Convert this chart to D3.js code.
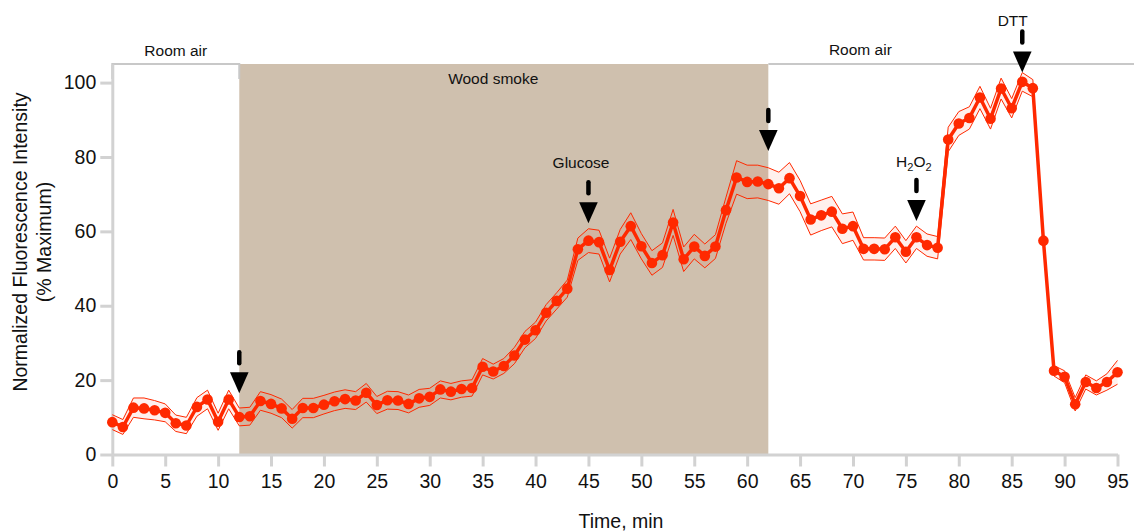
<!DOCTYPE html>
<html>
<head>
<meta charset="utf-8">
<script src="https://cdn.jsdelivr.net/npm/d3@7"></script>
<style>
  body { margin: 0; background: #fff; }
  svg { display: block; font-family: "Liberation Sans", Arial, sans-serif; }
</style>
</head>
<body>
<div id="chart"></div>
<script>
// time points, one per minute
const minutes = [
  0, 1, 2, 3, 4, 5, 6, 7, 8, 9, 10, 11, 12, 13, 14, 15, 16, 17, 18, 19,
  20, 21, 22, 23, 24, 25, 26, 27, 28, 29, 30, 31, 32, 33, 34, 35, 36, 37, 38, 39,
  40, 41, 42, 43, 44, 45, 46, 47, 48, 49, 50, 51, 52, 53, 54, 55, 56, 57, 58, 59,
  60, 61, 62, 63, 64, 65, 66, 67, 68, 69, 70, 71, 72, 73, 74, 75, 76, 77, 78, 79,
  80, 81, 82, 83, 84, 85, 86, 87, 88, 89, 90, 91, 92, 93, 94, 95
];

// mean normalized fluorescence (% max)
const intensity = [
  8.7, 7.4, 12.6, 12.4, 11.9, 11.2, 8.4, 7.8, 12.8, 14.8,
  8.8, 14.8, 10.1, 10.3, 14.4, 13.6, 12.4, 9.6, 12.5, 12.5,
  13.4, 14.3, 14.9, 14.5, 16.6, 13.3, 14.6, 14.5, 13.6, 15.1,
  15.5, 17.5, 16.9, 17.6, 17.9, 23.6, 22.3, 23.8, 26.6, 30.9,
  33.4, 38.1, 41.3, 44.6, 55.2, 57.5, 57.1, 49.6, 57.2, 61.4,
  56.0, 51.5, 53.6, 62.4, 52.5, 55.9, 53.4, 55.9, 65.7, 74.5,
  73.3, 73.4, 72.7, 71.6, 74.3, 69.5, 63.2, 64.3, 65.3, 60.7,
  61.4, 55.3, 55.3, 55.2, 58.4, 54.5, 58.4, 56.3, 55.6, 84.7,
  89.0, 90.5, 96.0, 90.3, 98.4, 93.1, 100.2, 98.5, 57.5, 22.5,
  20.9, 13.5, 19.5, 17.9, 19.5, 22.1
];

// standard error around the mean
const sem = [
  2.0, 2.0, 2.6, 2.8, 2.6, 2.4, 2.2, 2.2, 2.5, 2.5,
  2.3, 2.5, 2.4, 2.4, 2.5, 2.5, 2.5, 2.5, 2.6, 2.6,
  2.5, 2.5, 2.5, 2.4, 2.5, 2.3, 2.4, 2.4, 2.4, 2.4,
  2.3, 2.3, 2.2, 2.2, 2.2, 2.2, 2.0, 2.0, 2.2, 2.2,
  2.2, 2.2, 2.2, 2.3, 3.0, 3.2, 3.2, 3.2, 3.3, 3.6,
  3.4, 3.3, 3.3, 3.5, 3.3, 3.3, 3.2, 3.2, 3.5, 4.5,
  4.5, 4.4, 4.4, 4.3, 4.2, 4.2, 4.2, 4.1, 4.1, 4.0,
  3.8, 3.0, 3.0, 3.0, 3.0, 3.0, 3.0, 3.0, 3.0, 3.3,
  3.2, 3.0, 3.0, 2.8, 2.8, 2.6, 2.5, 2.3, 0.4, 1.4,
  1.6, 1.8, 1.9, 1.9, 2.2, 3.2
];

const xTicks = [0, 5, 10, 15, 20, 25, 30, 35, 40, 45, 50, 55, 60, 65, 70, 75, 80, 85, 90, 95];
const yTicks = [0, 20, 40, 60, 80, 100];

// exposure phases (minutes)
const smokeStart = 12, smokeEnd = 62;

// additions: time and value at arrow tip
const arrows = [
  { t: 12, tip: 16.5 },
  { t: 45, tip: 62.2 },
  { t: 62, tip: 81.6 },
  { t: 76, tip: 62.8 },
  { t: 86, tip: 102.7 }
];

// text labels placed in data coordinates
const labels = [
  { text: "Room air", t: 6, v: 107.2 },
  { text: "Wood smoke", t: 36, v: 99.6 },
  { text: "Room air", t: 70.7, v: 107.4 },
  { text: "Glucose", t: 44.3, v: 77.0 },
  { text: "DTT", t: 85.1, v: 115.2 }
];

const width = 1134, height = 531;
const margin = { top: 64, right: 16.5, bottom: 76.5, left: 112.3 };
const red = "#ff2900";
const axisGray = "#d2d2d2";

const svg = d3.select("#chart")
  .append("svg")
  .attr("width", width)
  .attr("height", height);

const x = d3.scaleLinear().domain([0, 95]).range([margin.left, width - margin.right]);
const y = d3.scaleLinear().domain([0, 105]).range([height - margin.bottom, margin.top]);

const data = minutes.map((t, i) => ({ t, v: intensity[i], e: sem[i] }));

// wood smoke shading
svg.append("rect")
  .attr("x", x(smokeStart))
  .attr("y", y(105))
  .attr("width", x(smokeEnd) - x(smokeStart))
  .attr("height", y(0) - y(105))
  .attr("fill", "#cfc0ae");

// room air brackets
svg.append("path")
  .attr("d", `M${x(0)},${y(105) + 15}V${y(105)}H${x(smokeStart)}V${y(105) + 15}`)
  .attr("fill", "none")
  .attr("stroke", "#c8c8c8")
  .attr("stroke-width", 2);

svg.append("path")
  .attr("d", `M${x(smokeEnd)},${y(105)}H${x(97)}`)
  .attr("fill", "none")
  .attr("stroke", "#c8c8c8")
  .attr("stroke-width", 2);

// axes
function styleAxis(g) {
  g.attr("font-family", null).attr("font-size", 19.5);
  g.select(".domain").attr("stroke", axisGray).attr("stroke-width", 3);
  g.selectAll(".tick line").attr("stroke", axisGray).attr("stroke-width", 3);
  g.selectAll(".tick text").attr("fill", "#111");
}

svg.append("g")
  .attr("transform", `translate(0,${y(0)})`)
  .call(d3.axisBottom(x).tickValues(xTicks).tickSize(12).tickSizeOuter(0).tickPadding(8))
  .call(styleAxis);

svg.append("g")
  .attr("transform", `translate(${x(0)},0)`)
  .call(d3.axisLeft(y).tickValues(yTicks).tickSize(12).tickSizeOuter(0).tickPadding(4))
  .call(styleAxis);

// error band
svg.append("path")
  .datum(data)
  .attr("d", d3.area().x(d => x(d.t)).y0(d => y(d.v - d.e)).y1(d => y(d.v + d.e)))
  .attr("fill", red)
  .attr("fill-opacity", 0.07);

[1, -1].forEach(sign => {
  svg.append("path")
    .datum(data)
    .attr("d", d3.line().x(d => x(d.t)).y(d => y(d.v + sign * d.e)))
    .attr("fill", "none")
    .attr("stroke", red)
    .attr("stroke-width", 1);
});

// mean line and points
svg.append("path")
  .datum(data)
  .attr("d", d3.line().x(d => x(d.t)).y(d => y(d.v)))
  .attr("fill", "none")
  .attr("stroke", red)
  .attr("stroke-width", 3.5)
  .attr("stroke-linejoin", "round");

svg.selectAll("circle.pt")
  .data(data)
  .enter()
  .append("circle")
  .attr("class", "pt")
  .attr("cx", d => x(d.t))
  .attr("cy", d => y(d.v))
  .attr("r", 5.3)
  .attr("fill", red);

// addition arrows
arrows.forEach(a => {
  const ax = x(a.t), ty = y(a.tip);
  svg.append("line")
    .attr("x1", ax).attr("x2", ax)
    .attr("y1", ty - 41).attr("y2", ty - 30)
    .attr("stroke", "#000")
    .attr("stroke-width", 4.5)
    .attr("stroke-linecap", "round");
  svg.append("path")
    .attr("d", `M${ax - 9.3},${ty - 21}L${ax + 9.3},${ty - 21}L${ax},${ty}Z`)
    .attr("fill", "#000");
});

// labels
labels.forEach(l => {
  svg.append("text")
    .attr("x", x(l.t))
    .attr("y", y(l.v))
    .attr("text-anchor", "middle")
    .attr("font-size", 15.5)
    .attr("fill", "#111")
    .text(l.text);
});

const h2o2 = svg.append("text")
  .attr("x", x(75.75))
  .attr("y", y(77.4))
  .attr("text-anchor", "middle")
  .attr("font-size", 15.5)
  .attr("fill", "#111");
h2o2.append("tspan").text("H");
h2o2.append("tspan").attr("font-size", 11).attr("dy", 4).text("2");
h2o2.append("tspan").attr("dy", -4).text("O");
h2o2.append("tspan").attr("font-size", 11).attr("dy", 4).text("2");

// axis titles
svg.append("text")
  .attr("x", 621)
  .attr("y", 528)
  .attr("text-anchor", "middle")
  .attr("font-size", 19.5)
  .attr("fill", "#111")
  .text("Time, min");

const yTitle = svg.append("text")
  .attr("transform", "translate(0,242) rotate(-90)")
  .attr("text-anchor", "middle")
  .attr("font-size", 19.5)
  .attr("fill", "#111");
yTitle.append("tspan").attr("x", 0).attr("y", 27).text("Normalized Fluorescence Intensity");
yTitle.append("tspan").attr("x", 0).attr("y", 51).text("(% Maximum)");
</script>
</body>
</html>
